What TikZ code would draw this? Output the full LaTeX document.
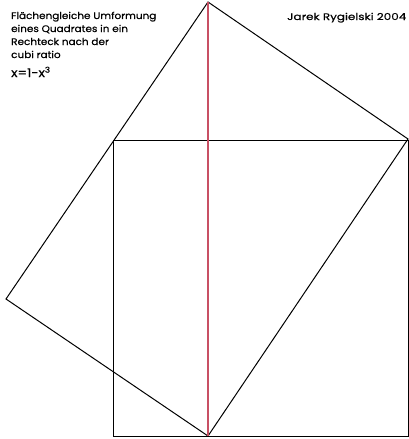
\documentclass[tikz,border=0pt]{standalone}
\usepackage{graphicx}
\usepackage{fontspec}
\setmainfont{Poppins}[FakeBold=0.5]
\definecolor{axisred}{RGB}{200,80,100}
\begin{document}
\begin{tikzpicture}[x=1pt,y=-1pt,
  edge/.style={draw=black,line width=1pt,line join=miter},
  axisline/.style={draw=axisred,line width=1.1pt},
  lbl/.style={anchor=base west,inner sep=0pt,font=\fontsize{9.5}{11}\selectfont}]
\useasboundingbox (0,0) rectangle (409,439);
% tilted rectangle
\coordinate (A) at (208,2);
\coordinate (B) at (408,139);
\coordinate (C) at (208,436);
\coordinate (D) at (6,299);
% square
\coordinate (S1) at (113,140);
\coordinate (S2) at (408,140);
\coordinate (S3) at (408,436);
\coordinate (S4) at (113,436);
\draw[edge] (A) -- (B) -- (C) -- (D) -- cycle;
\draw[edge] (S1) -- (S2) -- (S3) -- (S4) -- cycle;
\draw[axisline] (A) -- (C);
\node[lbl] (t1) at (11,19) {\scalebox{1.1}[1]{Flächengleiche Umformung}};
\node[lbl] (t2) at (11,32) {\scalebox{1.1}[1]{eines Quadrates in ein}};
\node[lbl] (t3) at (11,45) {\scalebox{1.1}[1]{Rechteck nach der}};
\node[lbl] (t4) at (11,58) {\scalebox{1.1}[1]{cubi ratio}};
\node[lbl,font=\fontsize{12}{13}\selectfont] (t5) at (11,77) {\scalebox{1.1}[1]{x=1-x\textsuperscript{3}}};
\node[lbl] (au) at (287,20) {\scalebox{1.26}[1]{Jarek Rygielski 2004}};
\end{tikzpicture}
\end{document}
